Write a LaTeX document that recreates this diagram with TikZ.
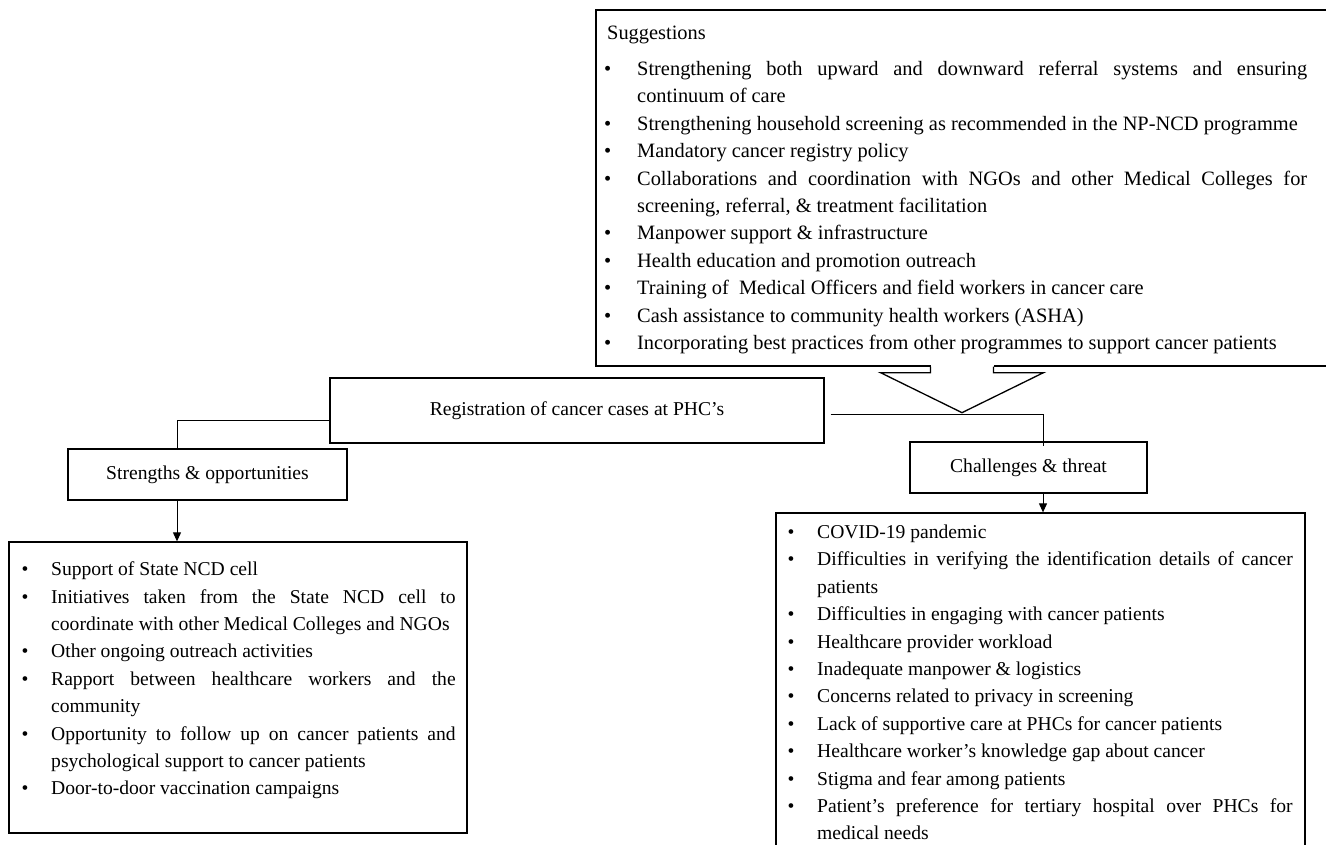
\documentclass[tikz,border=0pt]{standalone}
\usepackage{fontspec}
\setmainfont{Liberation Serif}[WordSpace={1,1,0}]
\usetikzlibrary{positioning,arrows.meta}

\hyphenpenalty=10000
\exhyphenpenalty=10000
\tolerance=9999

\newlength\bulhang
\newcommand{\bulitem}{\noindent\hangindent=\bulhang\makebox[\bulhang][l]{•}}
\newcommand{\bul}{\par\bulitem}

\tikzset{
  box/.style={draw, line width=1.3pt, inner sep=0pt},
  txt/.style={font=\fontsize{19.6}{27.4}\selectfont, inner sep=0pt},
  sugtxt/.style={font=\fontsize{20.4}{27.4}\selectfont, inner sep=0pt},
  listtxt/.style={anchor=north west, align=justify},
  link/.style={line width=1pt},
}

\begin{document}
\begin{tikzpicture}[x=1pt,y=-1pt]
  \useasboundingbox (0,0) rectangle (1326,844);

  % Suggestions box with its arrow
  \node[box, minimum width=732pt, minimum height=356pt] (sugg) at (962,188) {};
  \fill[white] ([xshift=-31.5pt,yshift=2pt]sugg.south) rectangle ([xshift=31.5pt,yshift=-6pt]sugg.south);
  \draw[line width=1.3pt] ([xshift=-31.5pt]sugg.south) -- ++(0,6) -- ++(-50,0)
    -- ++(81.5,40) -- ++(81.5,-40) -- ++(-50,0) -- ++(0,-6);
  \node[sugtxt, anchor=base west] (sugtitle) at (607,39) {Suggestions};
  \node[sugtxt, listtxt, text width=703pt] (suglist) at (604,61) {\setlength\bulhang{33pt}%
    \bulitem Strengthening both upward and downward referral systems and ensuring continuum of care
    \bul Strengthening household screening as recommended in the NP-NCD programme
    \bul Mandatory cancer registry policy
    \bul Collaborations and coordination with NGOs and other Medical Colleges for screening, referral, \& treatment facilitation
    \bul Manpower support \& infrastructure
    \bul Health education and promotion outreach
    \bul Training of\ \ Medical Officers and field workers in cancer care
    \bul Cash assistance to community health workers (ASHA)
    \bul Incorporating best practices from other programmes to support cancer patients\par};

  % Middle row
  \node[box, txt, minimum width=494pt, minimum height=65pt] (reg) at (577,410.5) {Registration of cancer cases at PHC’s};
  \node[box, txt, minimum width=279pt, minimum height=51pt] (str) at (207.5,474.5) {Strengths \& opportunities};
  \node[box, txt, minimum width=237pt, minimum height=51pt] (chal) at (1028.5,467.5) {Challenges \& threat};

  % Lists
  \node[box, minimum width=458pt, minimum height=291pt] (strlist) at (238,687.5) {};
  \node[txt, listtxt, text width=434pt] (strtext) at (21.5,561.6) {\setlength\bulhang{29.5pt}%
    \bulitem Support of State NCD cell
    \bul Initiatives taken from the State NCD cell to coordinate with other Medical Colleges and NGOs
    \bul Other ongoing outreach activities
    \bul Rapport between healthcare workers and the community
    \bul Opportunity to follow up on cancer patients and psychological support to cancer patients
    \bul Door-to-door vaccination campaigns\par};

  \node[box, minimum width=529pt, minimum height=357pt] (challist) at (1040.5,691.5) {};
  \node[txt, listtxt, text width=505pt] (chaltext) at (787.5,524.7) {\setlength\bulhang{29.5pt}%
    \bulitem COVID-19 pandemic
    \bul Difficulties in verifying the identification details of cancer patients
    \bul Difficulties in engaging with cancer patients
    \bul Healthcare provider workload
    \bul Inadequate manpower \& logistics
    \bul Concerns related to privacy in screening
    \bul Lack of supportive care at PHCs for cancer patients
    \bul Healthcare worker’s knowledge gap about cancer
    \bul Stigma and fear among patients
    \bul Patient’s preference for tertiary hospital over PHCs for medical needs\par};

  % Connectors
  \draw[link] ([yshift=-9.5pt]reg.west) -| ([xshift=-30.5pt]str.north);
  \draw[link] ([xshift=6pt,yshift=-3.5pt]reg.east) -| ([xshift=14.5pt,yshift=-5pt]chal.north);
  \draw[link, -{Triangle[length=9pt,width=8pt]}] ([xshift=-30.5pt]str.south) -- ([xshift=-30.5pt]str.south |- strlist.north);
  \draw[link, -{Triangle[length=9pt,width=8pt]}] ([xshift=14.5pt]chal.south) -- ([xshift=14.5pt]chal.south |- challist.north);
\end{tikzpicture}
\end{document}
